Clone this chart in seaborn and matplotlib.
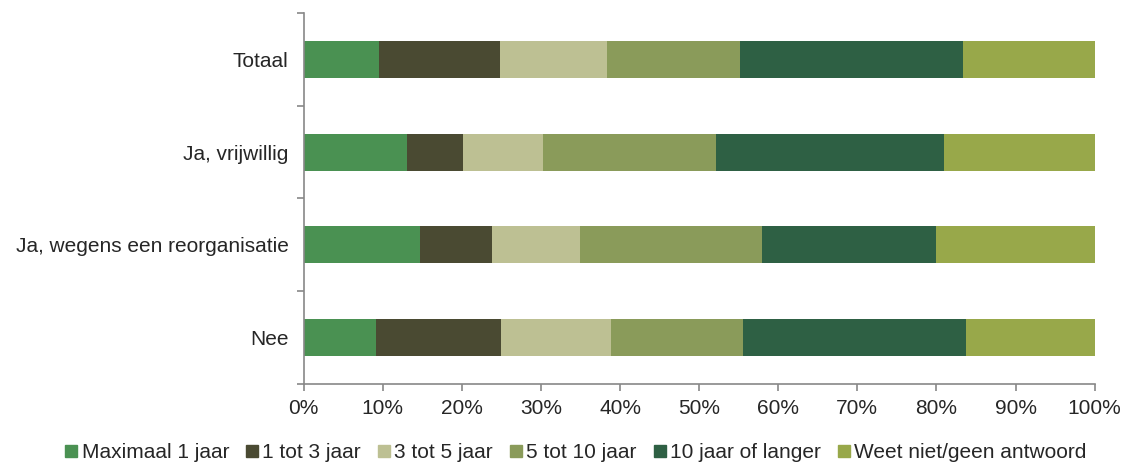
import numpy as np
import pandas as pd
import seaborn as sns
import matplotlib.pyplot as plt
from matplotlib.lines import Line2D

sns.set_style("white")
plt.rcParams["font.family"] = ["Liberation Sans", "DejaVu Sans"]

# data (percentages)
categories = ["Totaal", "Ja, vrijwillig", "Ja, wegens een reorganisatie", "Nee"]
series = ["Maximaal 1 jaar", "1 tot 3 jaar", "3 tot 5 jaar", "5 tot 10 jaar",
          "10 jaar of langer", "Weet niet/geen antwoord"]
max1 = [9.5, 13.1, 14.7, 9.1]
j1_3 = [15.3, 7.0, 9.1, 15.9]
j3_5 = [13.6, 10.1, 11.1, 13.8]
j5_10 = [16.8, 21.9, 23.0, 16.7]
j10plus = [28.1, 28.9, 22.1, 28.2]
weet_niet = [16.7, 19.0, 20.0, 16.3]
colors = ["#4a9152", "#4a4a32", "#bdc093", "#8a9b5a", "#2e6044", "#98a84a"]

df = pd.DataFrame(np.array([max1, j1_3, j3_5, j5_10, j10plus, weet_niet]).T,
                  columns=series, index=categories)
cum = df.cumsum(axis=1)

fig, ax = plt.subplots(figsize=(11.25, 4.67), dpi=100)
fig.subplots_adjust(left=0.270, right=0.973, top=0.972, bottom=0.178)

# stacked bars: draw cumulative totals from the last series to the first
for s, c in reversed(list(zip(series, colors))):
    sns.barplot(x=cum[s].values, y=categories, color=c, orient="h",
                width=0.4, ax=ax, saturation=1, edgecolor="none")

ax.set_xlim(0, 100)
ax.set_ylim(3.5, -0.5)
ax.set_xticks(np.arange(0, 101, 10))
ax.set_xticklabels([f"{v}%" for v in range(0, 101, 10)], fontsize=15)
ax.tick_params(axis="y", which="major", labelsize=15, length=0, pad=11)
ax.set_yticks(np.arange(-0.5, 4, 1), minor=True)
ax.tick_params(axis="y", which="minor", left=True, length=5, color="#888888", width=1.2)
ax.tick_params(axis="x", length=5, color="#888888", width=1.2, direction="out",
               bottom=True, pad=6)
ax.set_xlabel("")
ax.set_ylabel("")

for side in ["top", "right"]:
    ax.spines[side].set_visible(False)
for side in ["left", "bottom"]:
    ax.spines[side].set_color("#888888")
    ax.spines[side].set_linewidth(1.2)

handles = [Line2D([], [], marker="s", linestyle="none", markersize=9,
                  markerfacecolor=c, markeredgecolor=c) for c in colors]
fig.legend(handles, series, loc="lower center", ncol=6, frameon=False,
           fontsize=15, handletextpad=0.0, columnspacing=0.6, handlelength=1.0,
           bbox_to_anchor=(0.51, -0.03))

fig.savefig("out.png", dpi=100)
